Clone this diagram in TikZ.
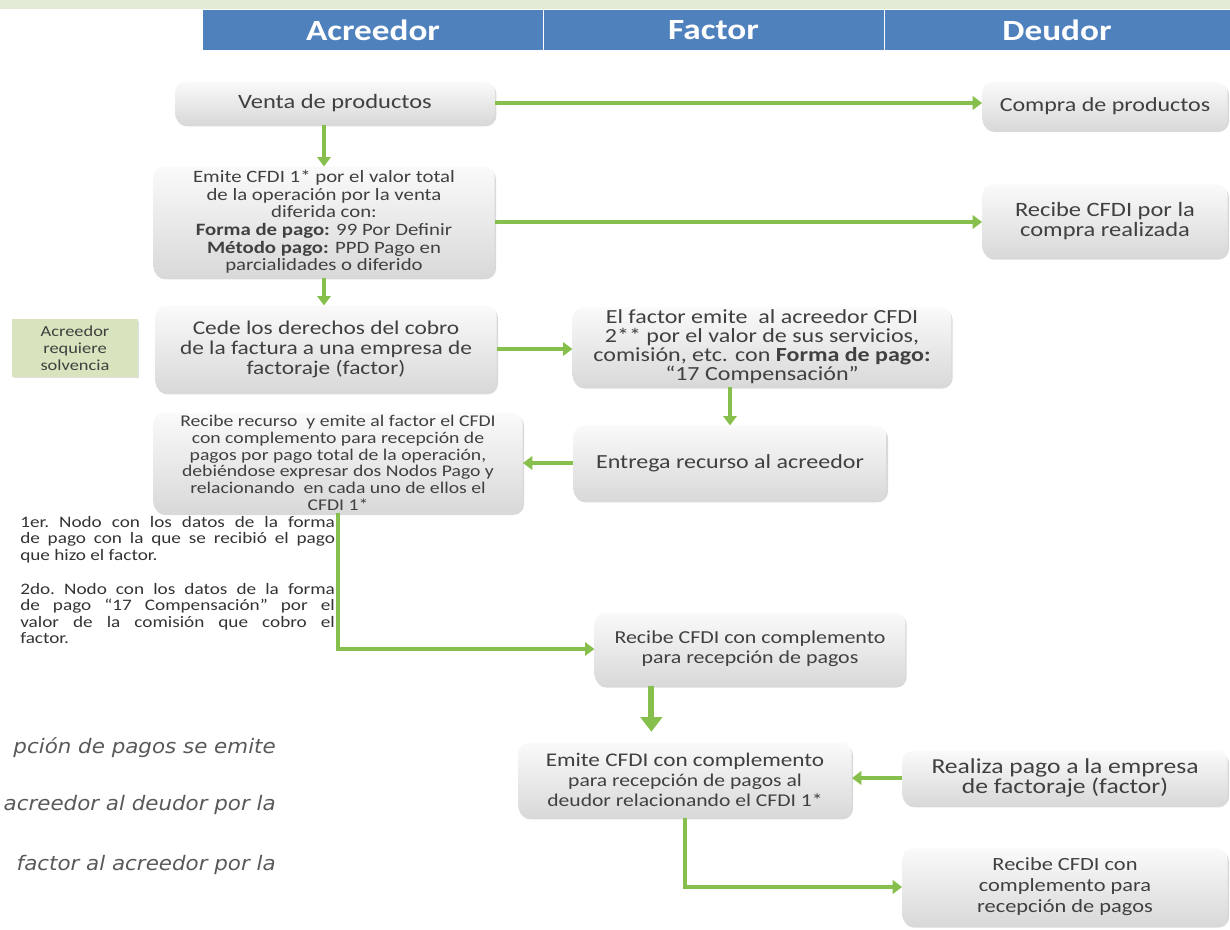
\documentclass[tikz,border=0pt]{standalone}
\usepackage{fontspec}
\setmainfont{Carlito}[FakeStretch=1.2]
\newfontfamily\notefont{DejaVu Sans}[FakeStretch=1.07]
\usetikzlibrary{arrows.meta,shadows,calc}
\definecolor{hdblue}{HTML}{4F81BD}
\definecolor{flowgreen}{HTML}{86BF4B}
\definecolor{bandgreen}{HTML}{E2EBD6}
\definecolor{notegreen}{HTML}{D7E4BD}
\definecolor{boxtext}{HTML}{404040}
\begin{document}
\begin{tikzpicture}[x=0.75pt,y=-0.75pt,>={Triangle[length=7pt,width=10pt]}]
\tikzset{
  flowbox/.style={rounded corners=8pt,top color=gray!4,bottom color=gray!30,
    drop shadow={opacity=0.3,shadow xshift=1pt,shadow yshift=-1.5pt},
    text=boxtext,align=center,inner sep=2pt},
  hdcell/.style={fill=hdblue,text=white,font=\bfseries\fontsize{22}{24}\selectfont,
    minimum height=30pt,inner sep=0pt},
  flow/.style={line width=2.8pt,->,color=flowgreen},
  sz/.style 2 args={font=\fontsize{#1}{#2}\selectfont},
  cutnote/.style={anchor=east,inner sep=0pt,text=black!65,font=\notefont\itshape\fontsize{15}{16}\selectfont}
}
\useasboundingbox (0,0) rectangle (1230,929);
\clip (0,0) rectangle (1230,929);
\fill[bandgreen] (0,0) rectangle (1230,9);
\node[hdcell,minimum width=255pt] (hdA) at (373,30) {Acreedor};
\node[hdcell,minimum width=255.75pt] (hdF) at (713.5,30) {Factor};
\node[hdcell,minimum width=259.5pt] (hdD) at (1057,30) {Deudor};
\draw[white,line width=1pt] (hdA.north east) -- (hdA.south east) (hdF.north east) -- (hdF.south east);

\node[flowbox,minimum width=240pt,minimum height=32pt,sz={15.3}{16}] (venta) at (335,103) {Venta de productos};
\node[flowbox,minimum width=184pt,minimum height=36pt,sz={15}{16}] (compra) at (1105,106) {Compra de productos};
\node[flowbox,minimum width=256pt,minimum height=83pt,sz={13}{13.2}] (emite) at (324,222) {Emite CFDI 1* por el valor total\\ de la operación por la venta\\ diferida con:\\ \textbf{Forma de pago:} 99 Por Definir\\ \textbf{Método pago:} PPD Pago en\\ parcialidades o diferido};
\node[flowbox,minimum width=184pt,minimum height=55pt,sz={15.3}{14.5}] (recibecompra) at (1105,221) {Recibe CFDI por la\\ compra realizada};
\node[flowbox,minimum width=256pt,minimum height=65pt,sz={14.6}{15}] (cede) at (326,349) {Cede los derechos del cobro\\ de la factura a una empresa de\\ factoraje (factor)};
\node[fill=notegreen,drop shadow={opacity=0.25,shadow xshift=1pt,shadow yshift=-1pt},text=boxtext,align=center,
  minimum width=94pt,minimum height=43pt,sz={11.5}{12.75}] (solvencia) at (75,348) {Acreedor\\ requiere\\ solvencia};
\node[flowbox,minimum width=284pt,minimum height=56pt,sz={15}{14.2}] (factoremite) at (762,347) {El factor emite\ \ al acreedor CFDI\\ 2** por el valor de sus servicios,\\ comisión, etc. con \textbf{Forma de pago:}\\ ``17 Compensación''};
\node[flowbox,minimum width=235pt,minimum height=56pt,sz={15}{15}] (entrega) at (730,463) {Entrega recurso al acreedor};
\node[flowbox,minimum width=277pt,minimum height=75pt,sz={12.3}{12.5}] (recurso) at (338,463) {Recibe recurso\ \ y emite al factor el CFDI\\ con complemento para recepción de\\ pagos por pago total de la operación,\\ debiéndose expresar dos Nodos Pago y\\ relacionando\ \ en cada uno de ellos el\\ CFDI 1*};
\node[anchor=north west,text width=236pt,align=justify,inner sep=0pt,text=black!80,sz={12}{12.4}] (nodos) at (20,516)
  {\frenchspacing 1er. Nodo con los datos de la forma\linebreak de pago con la que se recibió el pago\linebreak que hizo el factor.\par\vspace{13pt}
   2do. Nodo con los datos de la forma\linebreak de pago ``17 Compensación'' por el\linebreak valor de la comisión que cobro el\linebreak factor.};
\node[flowbox,minimum width=233pt,minimum height=55pt,sz={13.7}{15}] (recibefactor) at (750,649) {Recibe CFDI con complemento\\ para recepción de pagos};
\node[flowbox,minimum width=250pt,minimum height=56pt,sz={13.5}{15}] (emitecomp) at (685,780) {{\fontsize{14.5}{15}\selectfont Emite CFDI con complemento}\\ para recepción de pagos al\\ deudor relacionando el CFDI 1*};
\node[flowbox,minimum width=244pt,minimum height=41pt,sz={16}{15.5}] (realiza) at (1065,778) {Realiza pago a la empresa\\ de factoraje (factor)};
\node[flowbox,minimum width=244pt,minimum height=58pt,sz={14}{15.75}] (recibedeudor) at (1065,887) {Recibe CFDI con\\ complemento para\\ recepción de pagos};

\node[cutnote] (nota1) at (276,748) {pción de pagos se emite};
\node[cutnote] (nota2) at (276,805) {acreedor al deudor por la};
\node[cutnote] (nota3) at (276,865) {factor al acreedor por la};

\draw[flow] (venta.east) -- (venta.east -| compra.west);
\draw[flow] (emite.north |- venta.south) -- (emite.north);
\draw[flow] (emite.east) -- (emite.east -| recibecompra.west);
\draw[flow] (emite.south) -- (emite.south |- cede.north);
\draw[flow] (cede.east) -- (cede.east -| factoremite.west);
\draw[flow] (entrega.north |- factoremite.south) -- (entrega.north);
\draw[flow] (entrega.west) -- (recurso.east);
\draw[flow] (recurso.south) |- (recibefactor.west);
\coordinate (tk) at ($(recibefactor.south west)!0.183!(recibefactor.south east)$);
\draw[flow,line width=4.5pt,-{Triangle[length=11pt,width=16pt]},shorten >=8pt] (tk) -- (tk |- emitecomp.north);
\draw[flow] (realiza.west) -- (realiza.west -| emitecomp.east);
\draw[flow] (emitecomp.south) |- (recibedeudor.west);
\end{tikzpicture}
\end{document}
